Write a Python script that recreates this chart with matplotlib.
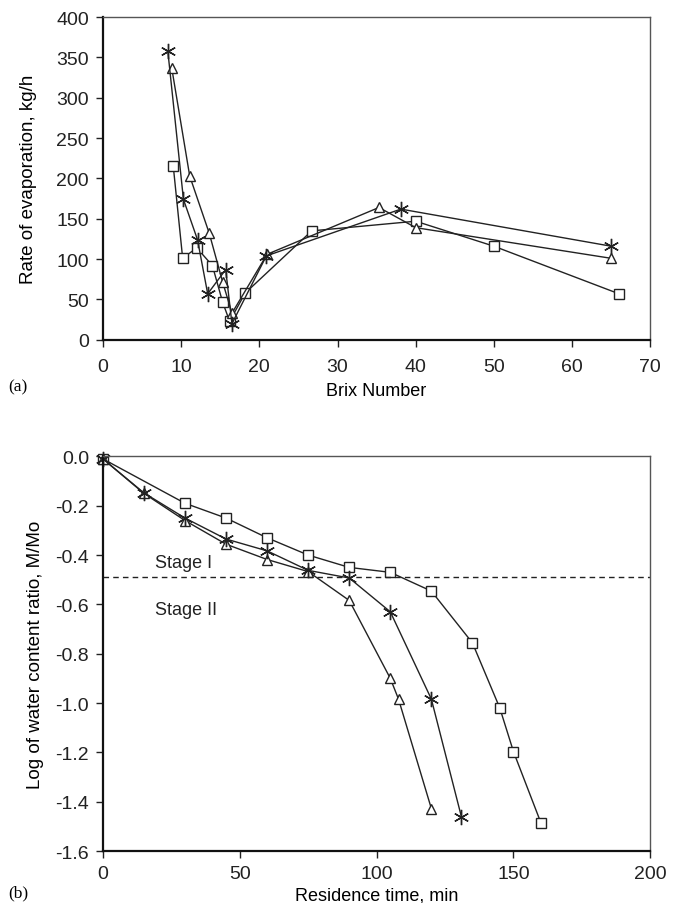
import matplotlib
matplotlib.use("Agg")
import matplotlib.pyplot as plt

plt.rcParams['font.family'] = ['Liberation Sans', 'DejaVu Sans']

# (a) rate of evaporation vs brix number
brix_sq = [9.0, 10.2, 12.0, 14.0, 15.3, 16.2, 18.2, 26.7, 40.0, 50.0, 66.0]
rate_sq = [215, 101, 114, 92, 47, 23, 58, 135, 147, 116, 57]
brix_tri = [8.8, 11.1, 13.6, 15.3, 16.5, 21.0, 35.3, 40.0, 65.0]
rate_tri = [337, 203, 132, 72, 33, 106, 164, 139, 101]
brix_st = [8.3, 10.3, 12.1, 13.4, 15.7, 16.5, 20.9, 38.1, 65.0]
rate_st = [358, 174, 124, 57, 87, 20, 104, 162, 116]

# (b) log of water content ratio vs residence time
t_sq = [0, 30, 45, 60, 75, 90, 105, 120, 135, 145, 150, 160]
m_sq = [-0.01, -0.19, -0.25, -0.33, -0.40, -0.45, -0.47, -0.546, -0.756, -1.02, -1.197, -1.485]
t_st = [0, 15, 30, 45, 60, 75, 90, 105, 120, 131]
m_st = [-0.01, -0.148, -0.25, -0.335, -0.383, -0.462, -0.493, -0.63, -0.984, -1.462]
t_tri = [0, 15, 30, 45, 60, 75, 90, 105, 108, 120]
m_tri = [-0.01, -0.15, -0.26, -0.356, -0.418, -0.467, -0.584, -0.90, -0.984, -1.428]
stage_line = -0.49

star = (6, 2, 0)
lc = '#222222'


def style(ax):
    for s in ['left', 'bottom']:
        ax.spines[s].set_linewidth(1.6)
        ax.spines[s].set_color('#111111')
    for s in ['top', 'right']:
        ax.spines[s].set_linewidth(1.0)
        ax.spines[s].set_color('#555555')
    ax.tick_params(direction='out', length=5, width=1, labelsize=14, pad=5,
                   colors='#222222', top=False, right=False)


fig = plt.figure(figsize=(6.86, 9.04), dpi=100)
ax1 = fig.add_axes([0.150, 0.623, 0.798, 0.357])
ax2 = fig.add_axes([0.150, 0.0575, 0.798, 0.4365])

ax1.plot(brix_sq, rate_sq, color=lc, lw=1, marker='s', ms=7, mfc='white', mec=lc, mew=1)
ax1.plot(brix_tri, rate_tri, color=lc, lw=1, marker='^', ms=7, mfc='white', mec=lc, mew=1)
ax1.plot(brix_st, rate_st, color=lc, lw=1, marker=star, ms=11, mec=lc, mew=1)
ax1.set_xlim(0, 70)
ax1.set_ylim(0, 400)
ax1.set_xticks(range(0, 71, 10))
ax1.set_yticks(range(0, 401, 50))
ax1.set_xlabel('Brix Number', fontsize=13, labelpad=5)
ax1.set_ylabel('Rate of evaporation, kg/h', fontsize=13.5, labelpad=14)
style(ax1)
ax1.tick_params(axis='x', pad=8)

ax2.plot(t_sq, m_sq, color=lc, lw=1, marker='s', ms=7, mfc='white', mec=lc, mew=1, clip_on=False)
ax2.plot(t_tri, m_tri, color=lc, lw=1, marker='^', ms=7, mfc='white', mec=lc, mew=1, clip_on=False)
ax2.plot(t_st, m_st, color=lc, lw=1, marker=star, ms=11, mec=lc, mew=1, clip_on=False)
ax2.axhline(stage_line, color=lc, lw=1, ls=(0, (4, 3)))
ax2.text(19, -0.43, 'Stage I', fontsize=13, va='center', ha='left', color='#222222')
ax2.text(19, -0.62, 'Stage II', fontsize=13, va='center', ha='left', color='#222222')
ax2.set_xlim(0, 200)
ax2.set_ylim(-1.6, 0)
ax2.set_xticks(range(0, 201, 50))
ax2.set_yticks([-1.6, -1.4, -1.2, -1.0, -0.8, -0.6, -0.4, -0.2, 0.0])
ax2.set_yticklabels(['-1.6', '-1.4', '-1.2', '-1.0', '-0.8', '-0.6', '-0.4', '-0.2', '0.0'])
ax2.set_xlabel('Residence time, min', fontsize=13, labelpad=3)
ax2.set_ylabel('Log of water content ratio, M/Mo', fontsize=13.5, labelpad=8)
style(ax2)

fig.text(0.012, 0.571, '(a)', fontsize=12.5, family='Liberation Serif', va='center')
fig.text(0.012, 0.012, '(b)', fontsize=12.5, family='Liberation Serif', va='center')

fig.savefig('out.png', dpi=100)
